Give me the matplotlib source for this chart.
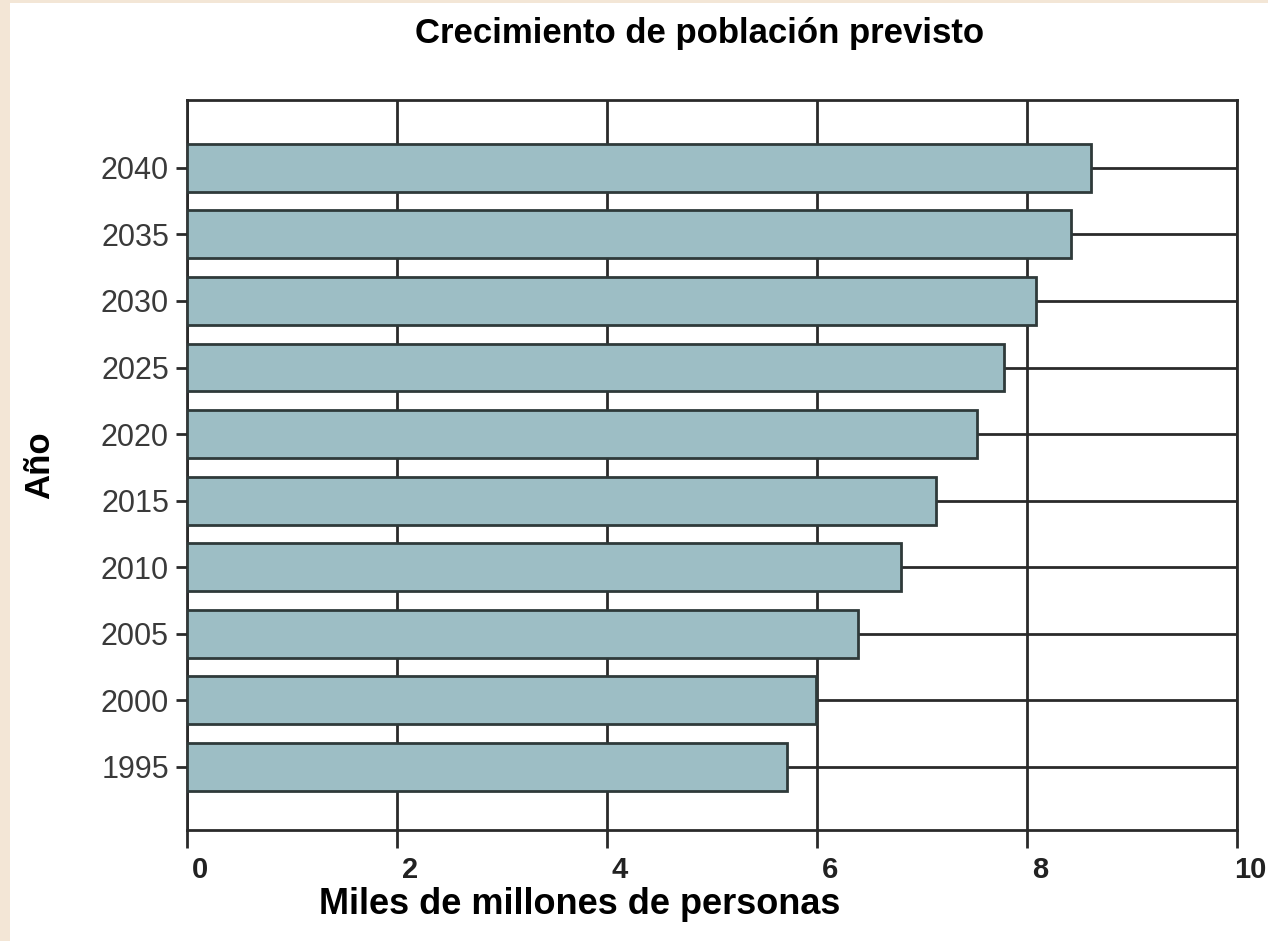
import numpy as np
import matplotlib
matplotlib.use("Agg")
from matplotlib import pyplot as plt
from matplotlib.patches import Rectangle
import matplotlib.transforms as mtransforms

# Daten
anios = ["1995", "2000", "2005", "2010", "2015", "2020", "2025", "2030", "2035", "2040"]
poblacion = [5.71, 5.99, 6.39, 6.80, 7.13, 7.52, 7.78, 8.09, 8.42, 8.61]
x_ticks = [0, 2, 4, 6, 8, 10]

titulo = "Crecimiento de población previsto"
x_label = "Miles de millones de personas"
y_label = "Año"

plt.rcParams['font.family'] = ['Liberation Sans', 'DejaVu Sans']

W, H = 1268, 941
fig = plt.figure(figsize=(W / 100, H / 100), dpi=100, facecolor="white")
# schmaler beiger Rand links und oben
beige = "#f3e6d6"
fig.patches.append(Rectangle((0, 0), 10 / W, 1, transform=fig.transFigure,
                             facecolor=beige, edgecolor="none"))
fig.patches.append(Rectangle((0, 1 - 3 / H), 1, 3 / H, transform=fig.transFigure,
                             facecolor=beige, edgecolor="none"))

ax = fig.add_axes([187 / W, 1 - 830 / H, (1237 - 187) / W, (830 - 100) / H])
ax.set_facecolor("white")

pos = np.arange(len(anios))
ax.barh(pos, poblacion, height=0.72, color="#9dbec5", edgecolor="#2f3a3a", lw=2, zorder=3)

ax.set_xlim(0, 10)
ax.set_ylim(-0.95, 10.02)
ax.set_xticks(x_ticks)
ax.set_xticklabels([str(t) for t in x_ticks])
ax.set_yticks(pos)
ax.set_yticklabels(anios)

ax.set_axisbelow(True)
ax.grid(True, color="#2a2a2a", lw=2)

for sp in ax.spines.values():
    sp.set_linewidth(2)
    sp.set_color("#2a2a2a")

ax.tick_params(axis="x", direction="out", length=13, width=2, color="#2a2a2a",
               labelsize=21, labelcolor="#222222", pad=6)
ax.tick_params(axis="y", direction="out", length=8, width=2, color="#2a2a2a",
               labelsize=22, labelcolor="#3a3a3a", pad=5)
for lab in ax.get_xticklabels():
    lab.set_fontweight("bold")
    lab.set_transform(lab.get_transform() + mtransforms.ScaledTranslation(0.13, 0, fig.dpi_scale_trans))

# Beschriftungen an festen Stellen wie im Original
fig.text(700 / W, 1 - 34 / H, titulo, fontsize=25, fontweight="bold",
         ha="center", va="center")
fig.text(580 / W, 1 - 905 / H, x_label, fontsize=26, fontweight="bold",
         ha="center", va="center")
fig.text(40 / W, 1 - 465 / H, y_label, fontsize=25, fontweight="bold",
         ha="center", va="center", rotation=90)

fig.savefig("out.png", dpi=100, facecolor=fig.get_facecolor())
